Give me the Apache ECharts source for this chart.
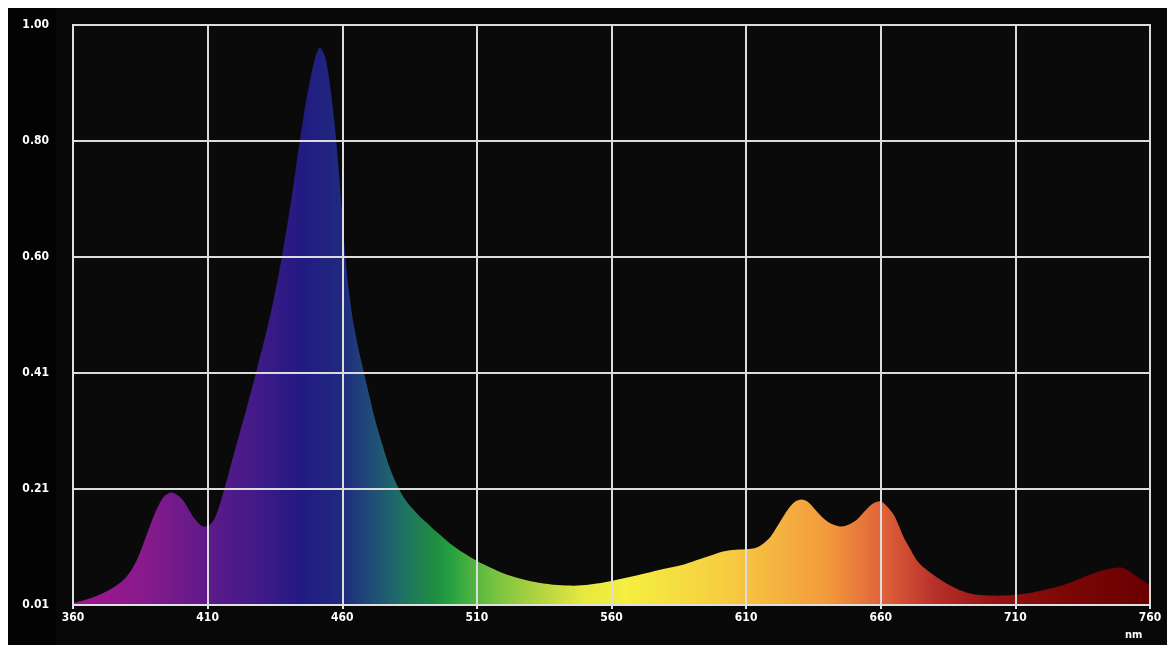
<!DOCTYPE html>
<html><head><meta charset="utf-8">
<script src="https://cdn.jsdelivr.net/npm/echarts@6/dist/echarts.min.js"></script>
<style>html,body{margin:0;padding:0;background:#fff}#c{width:1176px;height:654px}</style>
</head><body><div id="c"></div>
<script>
// wavelength (nm)
const wavelengths = [360,364,368,372,376,379,382,384,386,388,390,392,394,396.5,399,401,403,405,407,408.5,410,412,414,416,418,420,422,424,426,428,430,432,434,436,438,440,442,444,446,448,450,451.7,453,454,455,456,457,458,459,460,461,462,464,466,468,470,472,474,476,478,480,482,484,486,488,490,492,494,496,500,505,510,515,521,527,533,540,546,552,560,570,578,585,590,596,601,605,610,614,617,619,621,623.8,626,628,630.6,633,636.2,639,642,645.5,648,651,654,657,659.7,662,664.7,666.5,668.4,671,673.3,676,680,684,688,692,697,703,709,716,723,729,734,739,744,749,752,755,758,760];
// relative intensity
const intensity = [0.013,0.018,0.024,0.032,0.043,0.054,0.072,0.090,0.113,0.138,0.162,0.182,0.196,0.202,0.197,0.188,0.173,0.158,0.148,0.144,0.145,0.153,0.174,0.205,0.238,0.272,0.305,0.338,0.372,0.407,0.443,0.480,0.520,0.565,0.615,0.670,0.730,0.795,0.855,0.905,0.945,0.961,0.953,0.938,0.912,0.878,0.838,0.790,0.735,0.675,0.615,0.565,0.495,0.448,0.408,0.368,0.330,0.297,0.267,0.240,0.218,0.200,0.186,0.175,0.165,0.156,0.148,0.139,0.131,0.115,0.099,0.085,0.074,0.062,0.054,0.048,0.044,0.043,0.045,0.051,0.061,0.070,0.077,0.084,0.093,0.101,0.104,0.105,0.108,0.117,0.126,0.140,0.161,0.176,0.186,0.190,0.186,0.170,0.157,0.148,0.144,0.147,0.155,0.170,0.183,0.187,0.180,0.165,0.148,0.127,0.105,0.087,0.074,0.060,0.048,0.038,0.031,0.027,0.026,0.027,0.031,0.038,0.046,0.055,0.064,0.071,0.074,0.069,0.059,0.050,0.043];
const xTicks = [360,410,460,510,560,610,660,710,760];
const yTickLabels = ['0.01','0.21','0.41','0.60','0.80','1.00'];
const xUnit = 'nm';

const FONT = "'Liberation Sans Narrow','DejaVu Sans Condensed','Liberation Sans',sans-serif";
const chart = echarts.init(document.getElementById('c'), null, {renderer:'canvas'});
const yMin = parseFloat(yTickLabels[0]), yMax = parseFloat(yTickLabels[yTickLabels.length-1]);
const spectrum = [
  [0,'#a0168c'],[0.0625,'#8a1a8c'],[0.125,'#5e1a8a'],[0.175,'#3e1a88'],[0.2125,'#221a82'],
  [0.25,'#1f2a7e'],[0.275,'#1f4a78'],[0.30,'#1e6a6a'],[0.3375,'#1e9040'],[0.35,'#24a040'],
  [0.3875,'#70c040'],[0.425,'#a8d040'],[0.475,'#e8e840'],[0.5125,'#f4ef40'],[0.60,'#f7cf40'],
  [0.65,'#f5b540'],[0.70,'#f39a3c'],[0.75,'#e0643a'],[0.80,'#b8302a'],[0.85,'#9a1414'],
  [0.925,'#7a0606'],[1,'#6a0000']
].map(([o,c])=>({offset:o,color:c}));

chart.setOption({
  backgroundColor:'#fff',
  animation:false,
  graphic:[
    {type:'rect', z:-10, silent:true, shape:{x:8,y:8,width:1159,height:637}, style:{fill:'#030303'}},
    {type:'rect', z:-9, silent:true, shape:{x:56,y:8,width:1111,height:637}, style:{fill:'#080808'}},
    {type:'text', z:10, left:1125, top:630, style:{text:xUnit, fill:'#fff', font:'bold 11px '+FONT}}
  ],
  grid:{left:73,right:26,top:25,bottom:49,show:true,backgroundColor:'#0a0a0a',borderColor:'#dcdcdc',borderWidth:2,z:0},
  xAxis:{
    type:'value', min:xTicks[0], max:xTicks[xTicks.length-1], interval:xTicks[1]-xTicks[0], z:5,
    axisLine:{show:true,lineStyle:{color:'#e0e0e0',width:2}},
    axisTick:{show:true,length:4,lineStyle:{color:'#e0e0e0',width:2}},
    axisLabel:{color:'#fff',fontWeight:'bold',fontSize:12,fontFamily:FONT,margin:7},
    splitLine:{show:true,lineStyle:{color:'#dcdcdc',width:2}}
  },
  yAxis:{
    type:'value', min:yMin, max:yMax, interval:(yMax-yMin)/(yTickLabels.length-1), z:5,
    axisLine:{show:true,lineStyle:{color:'#e0e0e0',width:2}},
    axisTick:{show:false},
    axisLabel:{color:'#fff',fontWeight:'bold',fontSize:12,fontFamily:FONT,margin:24,
      formatter:(v,i)=>yTickLabels[i]!==undefined?yTickLabels[i]:v.toFixed(2)},
    splitLine:{show:true,lineStyle:{color:'#dcdcdc',width:2}}
  },
  series:[{
    type:'line', z:1, smooth:0.3, showSymbol:false, silent:true,
    data: wavelengths.map((w,i)=>[w,intensity[i]]),
    lineStyle:{width:0},
    areaStyle:{opacity:1, origin:'start', color:new echarts.graphic.LinearGradient(0,0,1,0,spectrum)}
  }]
});
</script></body></html>
